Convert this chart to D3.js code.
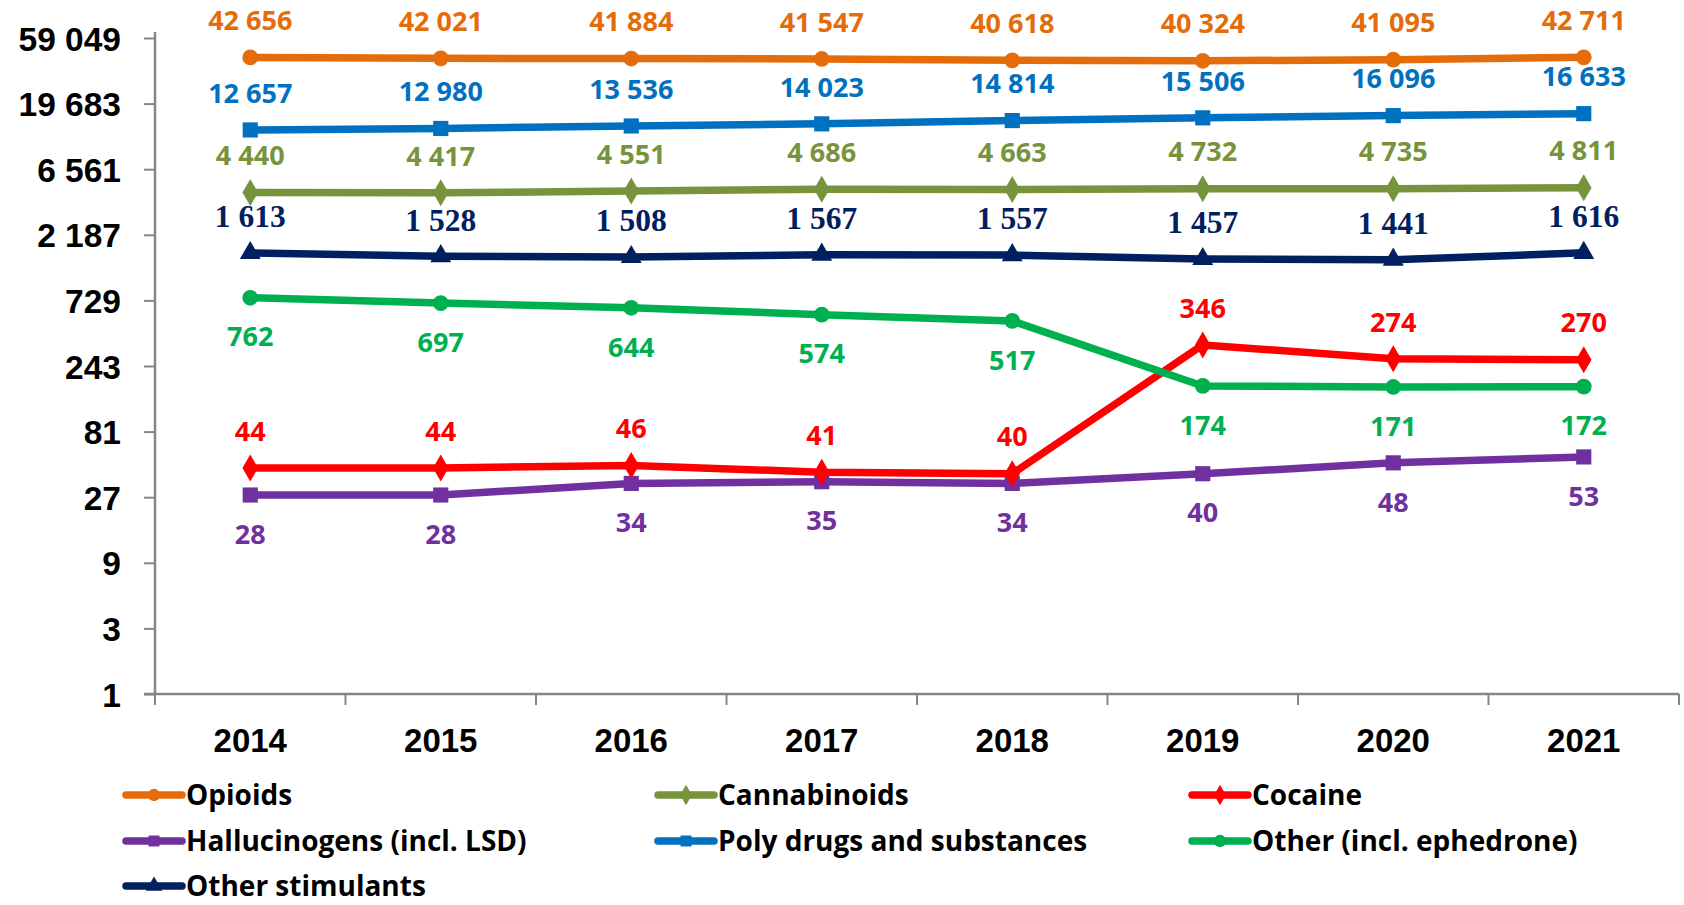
<!DOCTYPE html>
<html>
<head>
<meta charset="utf-8">
<script src="https://cdn.jsdelivr.net/npm/d3@7"></script>
<style>
  body { margin: 0; background: #fff; }
  svg { display: block; font-family: "Open Sans", sans-serif; }
</style>
</head>
<body>
<div id="chart-area"></div>
<script>
const years = ["2014", "2015", "2016", "2017", "2018", "2019", "2020", "2021"];
const yTicks = [1, 3, 9, 27, 81, 243, 729, 2187, 6561, 19683, 59049];

const opioids = [42656, 42021, 41884, 41547, 40618, 40324, 41095, 42711];
const poly = [12657, 12980, 13536, 14023, 14814, 15506, 16096, 16633];
const cannabinoids = [4440, 4417, 4551, 4686, 4663, 4732, 4735, 4811];
const stimulants = [1613, 1528, 1508, 1567, 1557, 1457, 1441, 1616];
const otherEph = [762, 697, 644, 574, 517, 174, 171, 172];
const cocaine = [44, 44, 46, 41, 40, 346, 274, 270];
const halluc = [28, 28, 34, 35, 34, 40, 48, 53];

// label side: -1 above, 1 below
const series = [
    { name: "Opioids", values: opioids, color: "#E46C0A", marker: "circle", side: -1 },
    { name: "Poly drugs and substances", values: poly, color: "#0070C0", marker: "square", side: -1 },
    { name: "Cannabinoids", values: cannabinoids, color: "#77933C", marker: "diamond", side: -1 },
    { name: "Other stimulants", values: stimulants, color: "#002060", marker: "triangle", side: -1, serif: true },
    { name: "Other (incl. ephedrone)", values: otherEph, color: "#00B050", marker: "circle", side: 1 },
    { name: "Cocaine", values: cocaine, color: "#FF0000", marker: "diamond", side: -1 },
    { name: "Hallucinogens (incl. LSD)", values: halluc, color: "#7030A0", marker: "square", side: 1 }
];

const legendOrder = ["Opioids", "Cannabinoids", "Cocaine",
    "Hallucinogens (incl. LSD)", "Poly drugs and substances", "Other (incl. ephedrone)",
    "Other stimulants"];

const w = 1684;
const h = 905;
const padLeft = 155, padRight = 1679, padTop = 38, padBottom = 694;

const fmt = (v) => d3.format(",")(v).replace(/,/g, " ");

const xScale = d3.scaleBand()
    .domain(years)
    .range([padLeft, padRight]);

const yScale = d3.scaleLog()
    .base(3)
    .domain([1, 59049])
    .range([padBottom, padTop]);

const cx = (i) => xScale(years[i]) + xScale.bandwidth() / 2;

const svg = d3.select("#chart-area")
    .append("svg")
    .attr("width", w)
    .attr("height", h);

// y axis
const yAxis = d3.axisLeft(yScale)
    .tickValues(yTicks)
    .tickFormat(fmt)
    .tickSize(11)
    .tickSizeOuter(0)
    .tickPadding(23);

const gy = svg.append("g")
    .attr("transform", "translate(" + padLeft + ",0)")
    .call(yAxis);
gy.select(".domain").remove();
gy.selectAll(".tick line").attr("stroke", "#868686").attr("stroke-width", 2);
gy.selectAll(".tick text")
    .attr("fill", "#000")
    .style("font-size", "33.5px")
    .style("font-weight", "700")
    .attr("dy", "0.36em");
gy.append("line")
    .attr("x1", 0).attr("x2", 0)
    .attr("y1", padTop - 6).attr("y2", padBottom)
    .attr("stroke", "#868686").attr("stroke-width", 2.5);

// x axis
const xAxis = d3.axisBottom(xScale).tickSize(0).tickSizeOuter(0).tickPadding(35);
const gx = svg.append("g")
    .attr("transform", "translate(0," + padBottom + ")")
    .call(xAxis);
gx.select(".domain").remove();
gx.selectAll(".tick text")
    .attr("fill", "#000")
    .style("font-size", "33px")
    .style("font-weight", "700");
gx.append("line")
    .attr("x1", padLeft - 11).attr("x2", padRight)
    .attr("y1", 0).attr("y2", 0)
    .attr("stroke", "#868686").attr("stroke-width", 2.5);
const bounds = years.map((y) => xScale(y)).concat([padRight]);
gx.selectAll(".bnd")
    .data(bounds)
    .enter()
    .append("line")
    .attr("x1", (d) => d).attr("x2", (d) => d)
    .attr("y1", 0).attr("y2", 11)
    .attr("stroke", "#868686").attr("stroke-width", 2);

const symbolFor = (m, size) => {
    const types = { circle: d3.symbolCircle, square: d3.symbolSquare, diamond: d3.symbolDiamond, triangle: d3.symbolTriangle };
    return d3.symbol().type(types[m]).size(size)();
};
const markerSize = { circle: 195, square: 230, diamond: 210, triangle: 190 };

const line = d3.line()
    .x((d, i) => cx(i))
    .y((d) => yScale(d));

// draw in reverse so top series sit on top
series.slice().reverse().forEach((s) => {
    const g = svg.append("g");
    g.append("path")
        .datum(s.values)
        .attr("d", line)
        .attr("fill", "none")
        .attr("stroke", s.color)
        .attr("stroke-width", 7.5)
        .attr("stroke-linejoin", "round");
    g.selectAll("path.mk")
        .data(s.values)
        .enter()
        .append("path")
        .attr("class", "mk")
        .attr("d", symbolFor(s.marker, markerSize[s.marker]))
        .attr("transform", (d, i) => "translate(" + cx(i) + "," + yScale(d) + ")")
        .attr("fill", s.color);
});

// data labels
series.forEach((s) => {
    svg.append("g").selectAll("text")
        .data(s.values)
        .enter()
        .append("text")
        .attr("x", (d, i) => cx(i))
        .attr("y", (d) => yScale(d) + (s.side < 0 ? -37 : 39))
        .attr("dy", "0.36em")
        .attr("text-anchor", "middle")
        .attr("fill", s.color)
        .style("font-size", s.serif ? "31.5px" : "27px")
        .style("font-weight", "700")
        .style("font-family", s.serif ? "'Liberation Serif', serif" : null)
        .text((d) => fmt(d));
});

// legend
const legendX = [126, 658, 1192];
const legendY = [795, 841, 886];
const legend = svg.append("g");
legendOrder.forEach((name, k) => {
    const s = series.find((d) => d.name === name);
    const lx = legendX[k % 3];
    const ly = legendY[Math.floor(k / 3)];
    const g = legend.append("g").attr("transform", "translate(" + lx + "," + ly + ")");
    g.append("line")
        .attr("x1", 0).attr("x2", 56)
        .attr("stroke", s.color)
        .attr("stroke-width", 7.5)
        .attr("stroke-linecap", "round");
    g.append("path")
        .attr("d", symbolFor(s.marker, 120))
        .attr("transform", "translate(28,0)")
        .attr("fill", s.color);
    g.append("text")
        .attr("x", 60)
        .attr("dy", "0.34em")
        .attr("fill", "#000")
        .style("font-size", "28px")
        .style("font-weight", "700")
        .text(name);
});
</script>
</body>
</html>
